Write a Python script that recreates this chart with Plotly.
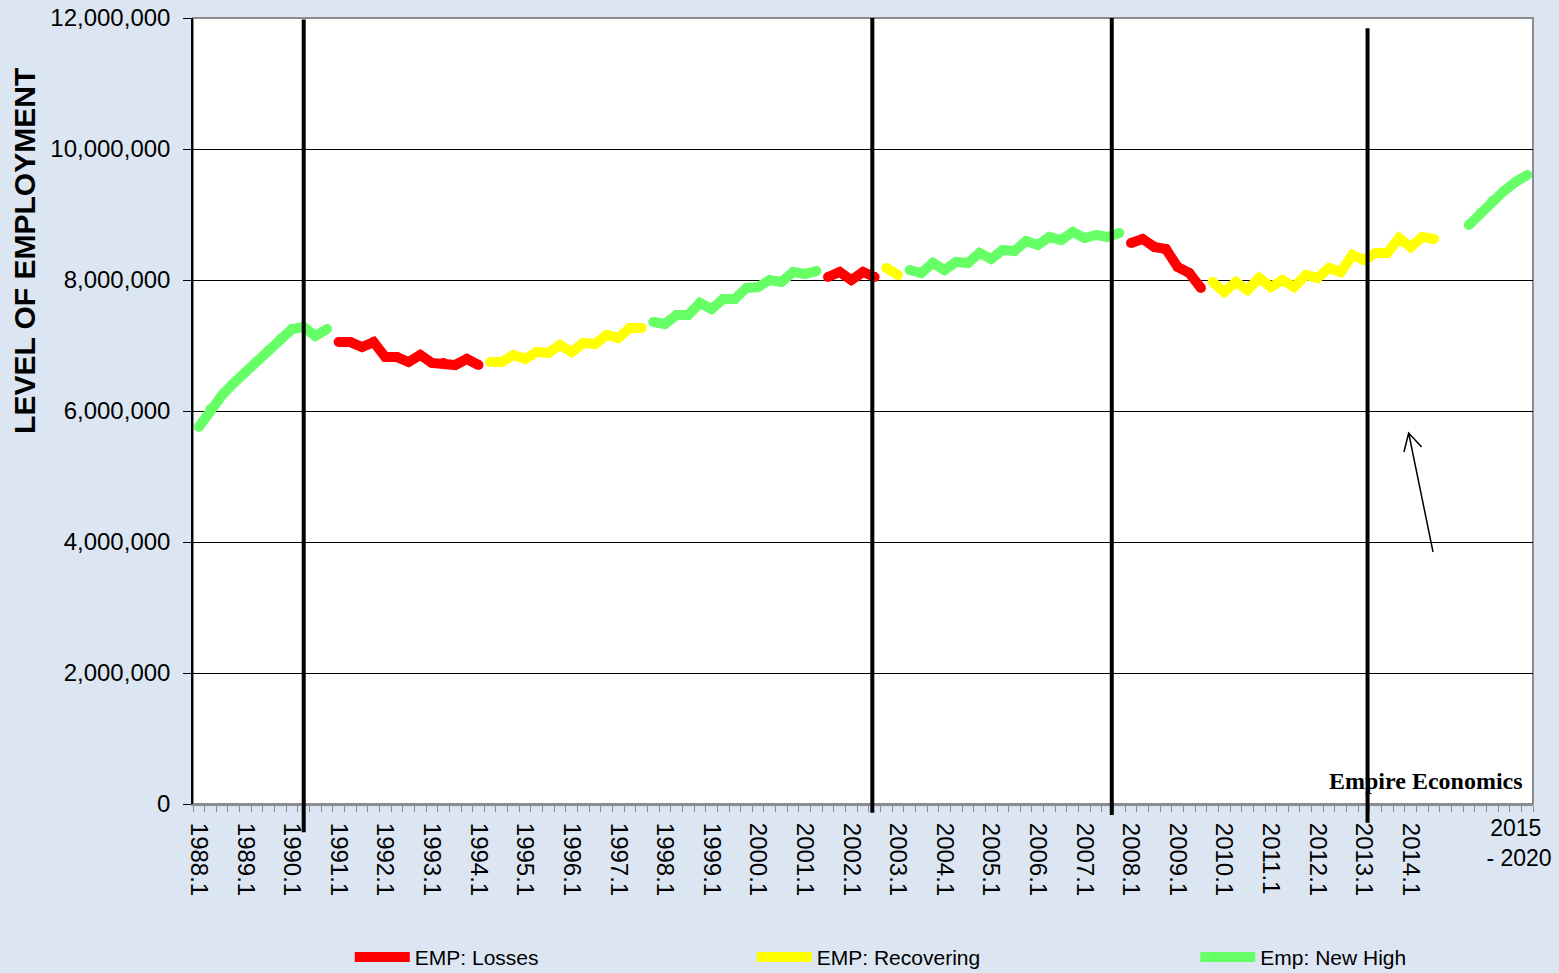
import plotly.graph_objects as go

# ---------------- data ----------------
# quarterly categories 1988.1 .. 2014.3
quarters = [f"{y}.{q}" for y in range(1988, 2015) for q in range(1, 5)][:107]
gap_slots = ["", ""]
forecast_years = ["2015", "2016", "2017", "2018", "2019", "2020"]
categories = quarters + gap_slots + forecast_years

# level of employment per quarter
emp = [
    5756000, 6030000, 6244000, 6427000, 6595000, 6763000, 6931000, 7099000,
    7252000, 7282000, 7145000, 7252000,
    7053000, 7053000, 6977000, 7053000, 6824000, 6824000, 6748000, 6855000,
    6733000, 6733000, 6702000, 6794000, 6702000,
    6748000, 6748000, 6855000, 6794000, 6901000, 6886000, 7008000, 6901000,
    7038000, 7023000, 7160000, 7115000, 7267000, 7267000,
    7359000, 7328000, 7466000, 7466000, 7649000, 7557000, 7710000, 7710000,
    7878000, 7893000, 8000000, 7969000, 8122000, 8092000, 8137000,
    8046000, 8122000, 8000000, 8122000, 8046000,
    8183000, 8076000,
    8153000, 8107000, 8260000, 8153000, 8275000, 8260000, 8412000, 8321000,
    8458000, 8443000, 8595000, 8534000, 8657000, 8611000, 8733000, 8641000,
    8687000, 8657000, 8718000,
    8565000, 8626000, 8504000, 8473000, 8198000, 8107000, 7878000,
    7969000, 7817000, 7969000, 7847000, 8031000, 7893000, 8000000, 7893000,
    8076000, 8031000, 8183000, 8122000, 8382000, 8305000, 8412000, 8412000,
    8641000, 8504000, 8657000, 8626000,
]
# phase of each quarter: R = losses, Y = recovering, G = new high
phase = ("GGGGGGGGGGGG" "RRRRRRRRRRRRR" "YYYYYYYYYYYYYY" "GGGGGGGGGGGGGGG"
         "RRRRR" "YY" "GGGGGGGGGGGGGGGGGGG" "RRRRRRR" "YYYYYYYYYYYYYYYYYYYY")

# forecast 2015 - 2020 (new high)
forecast_emp = [8840000, 9023000, 9206000, 9359000, 9496000, 9603000]

# vertical markers (quarter label)
marker_quarters = ["1990.2", "2002.3", "2007.3", "2013.1"]

series_names = {"R": "EMP: Losses", "Y": "EMP: Recovering", "G": "Emp: New High"}
series_colors = {"R": "#ff0000", "Y": "#ffff00", "G": "#66ff66"}

# ---------------- build ----------------
n = len(categories)
xs = list(range(n))
fig = go.Figure()
legend_ids = {"R": "legend", "Y": "legend2", "G": "legend3"}
for key in ["R", "Y", "G"]:
    ys = [None] * n
    for i, (v, p) in enumerate(zip(emp, phase)):
        if p == key:
            ys[i] = v
    if key == "G":
        start = len(quarters) + len(gap_slots)
        for j, v in enumerate(forecast_emp):
            ys[start + j] = v
    fig.add_trace(go.Scatter(
        x=xs, y=ys, mode="lines+markers", name=series_names[key],
        line=dict(color=series_colors[key], width=10),
        marker=dict(color=series_colors[key], size=10),
        connectgaps=False, hoverinfo="skip", legend=legend_ids[key],
    ))

# vertical black lines
offsets = [0.0, -0.2, 0.35, 0.3]
extents = [(-0.036, 0.998), (-0.011, 1.0), (-0.014, 1.0), (-0.024, 0.987)]
for q, off, (y0, y1) in zip(marker_quarters, offsets, extents):
    xv = categories.index(q) + off
    fig.add_shape(type="line", xref="x", yref="paper", x0=xv, x1=xv,
                  y0=y0, y1=y1, line=dict(color="black", width=4))

# plot border (grey)
fig.add_shape(type="rect", xref="paper", yref="paper", x0=0, x1=1, y0=0, y1=1,
              line=dict(color="#8c8c8c", width=2), layer="below")

# hand-drawn open arrow (decoration)
fig.add_shape(type="path", xref="paper", yref="paper",
              path="M0.9254,0.3206 L0.9072,0.4720 M0.9037,0.4478 L0.9072,0.4720 L0.9169,0.4542",
              line=dict(color="black", width=1.5))

tick_idx = [i for i, c in enumerate(quarters) if c.endswith(".1")]
tick_txt = [quarters[i] for i in tick_idx]

leg_common = dict(orientation="h", yanchor="middle", y=-0.195, xanchor="left",
                  font=dict(size=21), bgcolor="rgba(0,0,0,0)", itemwidth=55)

fig.update_layout(
    width=1559, height=973,
    margin=dict(l=193, r=26, t=18, b=169, autoexpand=False),
    paper_bgcolor="#dce6f2", plot_bgcolor="white",
    font=dict(family="Arial, Liberation Sans, sans-serif", color="black"),
    showlegend=True,
    legend=dict(x=0.117, **leg_common),
    legend2=dict(x=0.417, **leg_common),
    legend3=dict(x=0.748, **leg_common),
    xaxis=dict(range=[-0.5, n - 0.5], tickmode="array", tickvals=tick_idx,
               ticktext=tick_txt, tickangle=90, tickfont=dict(size=24),
               showgrid=False, zeroline=False, showline=True, automargin=False,
               linecolor="#8c8c8c", linewidth=2,
               ticks="outside", ticklen=12, tickcolor="rgba(0,0,0,0)",
               minor=dict(tickmode="linear", tick0=-0.5, dtick=1,
                          ticks="outside", ticklen=6, tickcolor="#8c8c8c",
                          tickwidth=1, showgrid=False)),
    yaxis=dict(range=[0, 12000000], tickmode="linear", tick0=0, dtick=2000000,
               tickformat=",d", tickfont=dict(size=24), automargin=False,
               showgrid=True, gridcolor="black", gridwidth=1,
               zeroline=False, showline=True, linecolor="black", linewidth=1.5,
               ticks="outside", ticklen=8, tickcolor="black",
               ticklabelstandoff=8),
)

# y-axis title (placed as in the original, above centre)
fig.add_annotation(xref="paper", yref="paper", x=-0.1254, y=0.7036,
                   text="<b>LEVEL OF EMPLOYMENT</b>", textangle=-90,
                   showarrow=False, font=dict(size=30),
                   xanchor="center", yanchor="middle")
fig.add_annotation(xref="x", yref="paper", x=len(quarters) + len(gap_slots) + 4,
                   y=-0.05, text="2015<br> - 2020", showarrow=False,
                   font=dict(size=23), xanchor="center", yanchor="middle",
                   align="center")
fig.add_annotation(xref="paper", yref="paper", x=0.994, y=0.029,
                   text="<b>Empire Economics</b>", showarrow=False,
                   font=dict(family="Liberation Serif, Times New Roman, serif",
                             size=24), xanchor="right", yanchor="middle")

fig.write_html("out.html", config={"displayModeBar": False},
               post_script="document.body.style.margin='0';")
